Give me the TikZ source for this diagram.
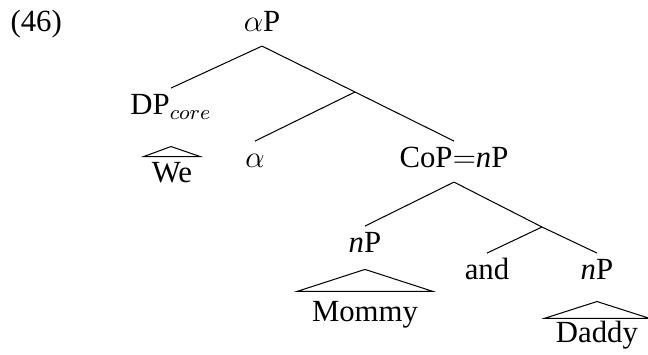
\documentclass[tikz,border=0pt]{standalone}
\usepackage{fontspec}
\setmainfont{Liberation Serif}

\begin{document}
\begin{tikzpicture}[
        x=0.39pt, y=-0.39pt,
        font=\fontsize{12}{14.4}\selectfont,
        cat/.style={inner xsep=0pt, inner ysep=0pt, text height=10.3pt, text depth=5.3pt, anchor=base},
        leaf/.style={inner xsep=5pt, inner ysep=0pt, text height=10.3pt, text depth=0pt, anchor=base},
        branch/.style={line width=0.4pt}
    ]
        \useasboundingbox (0,0) rectangle (648,355);

        % Example number
        \node[anchor=base west, inner sep=0pt] (exnum) at (10,32) {(46)};

        % Top level
        \node[cat] (ap) at (262,32) {$\alpha$P};
        \node[cat, text depth=12.1pt] (dp) at (171,115) {DP$_{core}$};
        \coordinate (bar1) at (355,92);
        \node[cat] (alpha) at (255,168) {$\alpha$};
        \node[cat] (cop) at (454,168) {CoP$=$\textit{n}P};

        % Coordination
        \node[cat, text depth=6.2pt] (np1) at (365,253) {\textit{n}P};
        \coordinate (bar2) at (542,227);
        \node[cat] (and) at (487,280) {and};
        \node[cat, text depth=8.2pt] (np2) at (597,280) {\textit{n}P};

        % Leaves
        \node[leaf, text height=10.1pt, inner xsep=3pt] (we) at (172,183) {We};
        \node[leaf, text height=11.7pt, inner xsep=5.7pt] (mommy) at (365,322) {Mommy};
        \node[leaf, text height=9.4pt, inner xsep=4.3pt] (daddy) at (597,343) {Daddy};

        % Branches
        \draw[branch] (ap.south) -- (dp.north);
        \draw[branch] (ap.south) -- (bar1) -- (cop.north);
        \draw[branch] (bar1) -- (alpha.north);
        \draw[branch] (cop.south) -- (np1.north);
        \draw[branch] (cop.south) -- (bar2) -- (np2.north);
        \draw[branch] (bar2) -- (and.north);

        % Roofs
        \draw[branch] (dp.south) -- (we.north west) -- (we.north east) -- cycle;
        \draw[branch] (np1.south) -- (mommy.north west) -- (mommy.north east) -- cycle;
        \draw[branch] (np2.south) -- (daddy.north west) -- (daddy.north east) -- cycle;
    \end{tikzpicture}
\end{document}
